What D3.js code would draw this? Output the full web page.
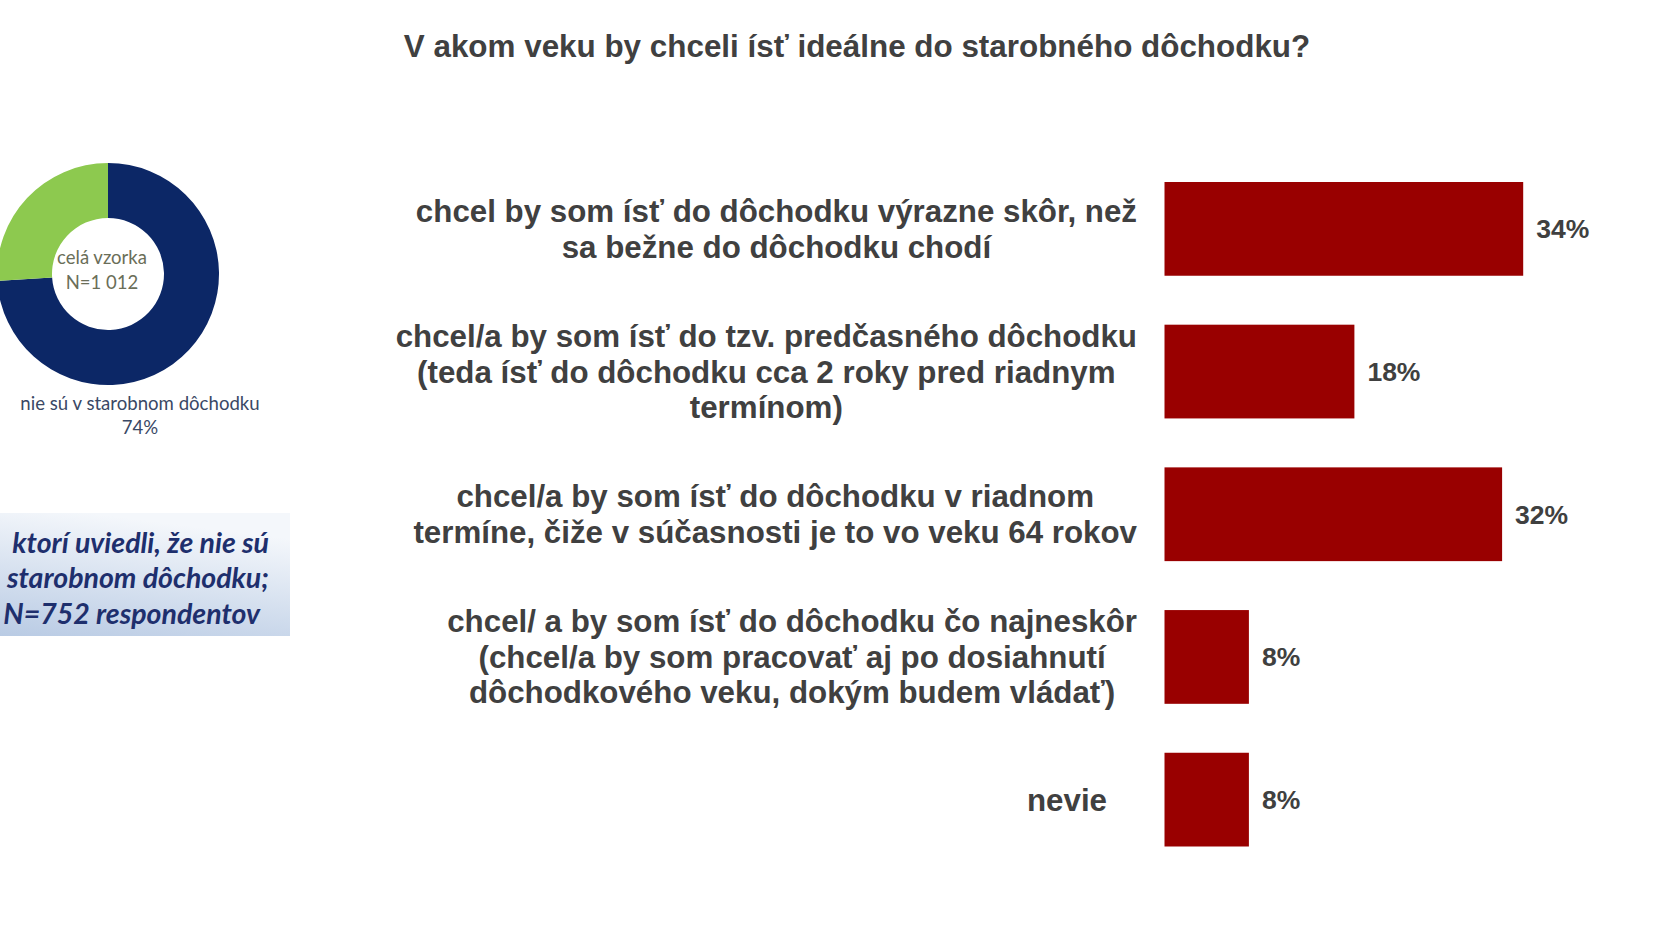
<!DOCTYPE html>
<html>
<head>
<meta charset="utf-8">
<script src="https://cdn.jsdelivr.net/npm/d3@7"></script>
<style>
  html, body { margin: 0; padding: 0; background: #fff; }
  svg { display: block; }
</style>
</head>
<body>
<div id="chart"></div>
<script>
const title = 'V akom veku by chceli ísť ideálne do starobného dôchodku?'

const categories = [
  ['chcel by som ísť do dôchodku výrazne skôr, než', 'sa bežne do dôchodku chodí'],
  ['chcel/a by som ísť do tzv. predčasného dôchodku', '(teda ísť do dôchodku cca 2 roky pred riadnym', 'termínom)'],
  ['chcel/a by som ísť do dôchodku v riadnom', 'termíne, čiže v súčasnosti je to vo veku 64 rokov'],
  ['chcel/ a by som ísť do dôchodku čo najneskôr', '(chcel/a by som pracovať aj po dosiahnutí', 'dôchodkového veku, dokým budem vládať)'],
  ['nevie'],
]
const values = [34, 18, 32, 8, 8]

const donutLabels = ['nie sú v starobnom dôchodku', 'ostatní']
const donutValues = [74, 26]
const donutCenterText = ['celá vzorka', 'N=1 012']
const noteLines = ['ktorí uviedli, že nie sú', 'starobnom dôchodku;', 'N=752 respondentov']

const WIDTH = 1680
const HEIGHT = 945
const TEXT_COLOR = '#404040'
const BAR_COLOR = '#990000'

const svg = d3.select('#chart').append('svg').attr('width', WIDTH).attr('height', HEIGHT)

const defs = svg.append('defs')
const grad = defs.append('linearGradient').attr('id', 'note-bg').attr('x1', 0.3).attr('y1', 0).attr('x2', 0).attr('y2', 1)
grad.append('stop').attr('offset', '0%').attr('stop-color', '#f4f7fb')
grad.append('stop').attr('offset', '100%').attr('stop-color', '#b9cbe4')

svg
  .append('text')
  .attr('x', 857)
  .attr('y', 57)
  .attr('text-anchor', 'middle')
  .attr('font-family', 'Liberation Sans, Arial, sans-serif')
  .attr('font-weight', 'bold')
  .attr('font-size', 31.4)
  .attr('fill', TEXT_COLOR)
  .text(title)

// bars
const x = d3.scaleLinear().domain([0, 100]).range([0, 1055])
const y = d3
  .scaleBand()
  .domain(d3.range(values.length))
  .range([182, 846.5])
  .paddingInner(0.343)
  .paddingOuter(0)

const barLeft = 1164.5
const barGroup = svg.append('g').attr('transform', `translate(${barLeft}, 0)`)

barGroup
  .selectAll('rect')
  .data(values)
  .join('rect')
  .attr('x', 0)
  .attr('y', (d, i) => y(i))
  .attr('width', d => x(d))
  .attr('height', y.bandwidth())
  .attr('fill', BAR_COLOR)

barGroup
  .selectAll('text.value')
  .data(values)
  .join('text')
  .attr('class', 'value')
  .attr('x', d => x(d) + 13)
  .attr('y', (d, i) => y(i) + y.bandwidth() / 2)
  .attr('dy', '0.35em')
  .attr('font-family', 'Liberation Sans, Arial, sans-serif')
  .attr('font-weight', 'bold')
  .attr('font-size', 26.5)
  .attr('fill', TEXT_COLOR)
  .text(d => d + '%')

// category labels, lines centred in a block that ends at labelRight
const labelRight = 1137
const lineHeight = 35.5
categories.forEach(function (lines, i) {
  const g = svg.append('g')
  const cy = y(i) + y.bandwidth() / 2
  const texts = lines.map(function (line, j) {
    return g
      .append('text')
      .attr('y', cy + (j - (lines.length - 1) / 2) * lineHeight)
      .attr('dy', '0.35em')
      .attr('text-anchor', 'middle')
      .attr('font-family', 'Liberation Sans, Arial, sans-serif')
      .attr('font-weight', 'bold')
      .attr('font-size', 31.3)
      .attr('fill', TEXT_COLOR)
      .text(line)
  })
  const maxW = d3.max(texts, t => t.node().getComputedTextLength())
  // single-line label sits a bit left of the others
  const right = lines.length === 1 ? labelRight - 30 : labelRight
  texts.forEach(t => t.attr('x', right - maxW / 2))
})

// donut
const donutG = svg.append('g').attr('transform', 'translate(108, 274)')
const pie = d3.pie().sort(null)
const arc = d3.arc().innerRadius(56).outerRadius(111)
donutG
  .selectAll('path')
  .data(pie(donutValues))
  .join('path')
  .attr('d', arc)
  .attr('fill', (d, i) => ['#0c2766', '#8dc94f'][i])

donutG
  .selectAll('text')
  .data(donutCenterText)
  .join('text')
  .attr('x', -6)
  .attr('y', (d, i) => -16 + i * 24.5)
  .attr('dy', '0.35em')
  .attr('text-anchor', 'middle')
  .attr('font-family', 'Lato, Noto Sans, sans-serif')
  .attr('font-size', 18.5)
  .attr('fill', '#6a6e58')
  .text(d => d)

const donutCaption = svg.append('g').attr('transform', 'translate(140, 403)')
donutCaption
  .selectAll('text')
  .data([donutLabels[0], donutValues[0] + '%'])
  .join('text')
  .attr('y', (d, i) => i * 24)
  .attr('dy', '0.35em')
  .attr('text-anchor', 'middle')
  .attr('font-family', 'Lato, Noto Sans, sans-serif')
  .attr('font-size', 18.6)
  .attr('fill', '#3a4865')
  .text(d => d)

// note box
svg
  .append('rect')
  .attr('x', 0)
  .attr('y', 513)
  .attr('width', 290)
  .attr('height', 123)
  .attr('fill', 'url(#note-bg)')

svg
  .append('g')
  .selectAll('text')
  .data(noteLines)
  .join('text')
  .attr('x', (d, i) => (i === 2 ? 260 : 269))
  .attr('y', (d, i) => 543 + i * 35.5)
  .attr('dy', '0.35em')
  .attr('text-anchor', 'end')
  .attr('font-family', 'Lato, Noto Sans, sans-serif')
  .attr('font-weight', 'bold')
  .attr('font-style', 'italic')
  .attr('font-size', 28.5)
  .attr('fill', '#1e2f6d')
  .text(d => d)
</script>
</body>
</html>
